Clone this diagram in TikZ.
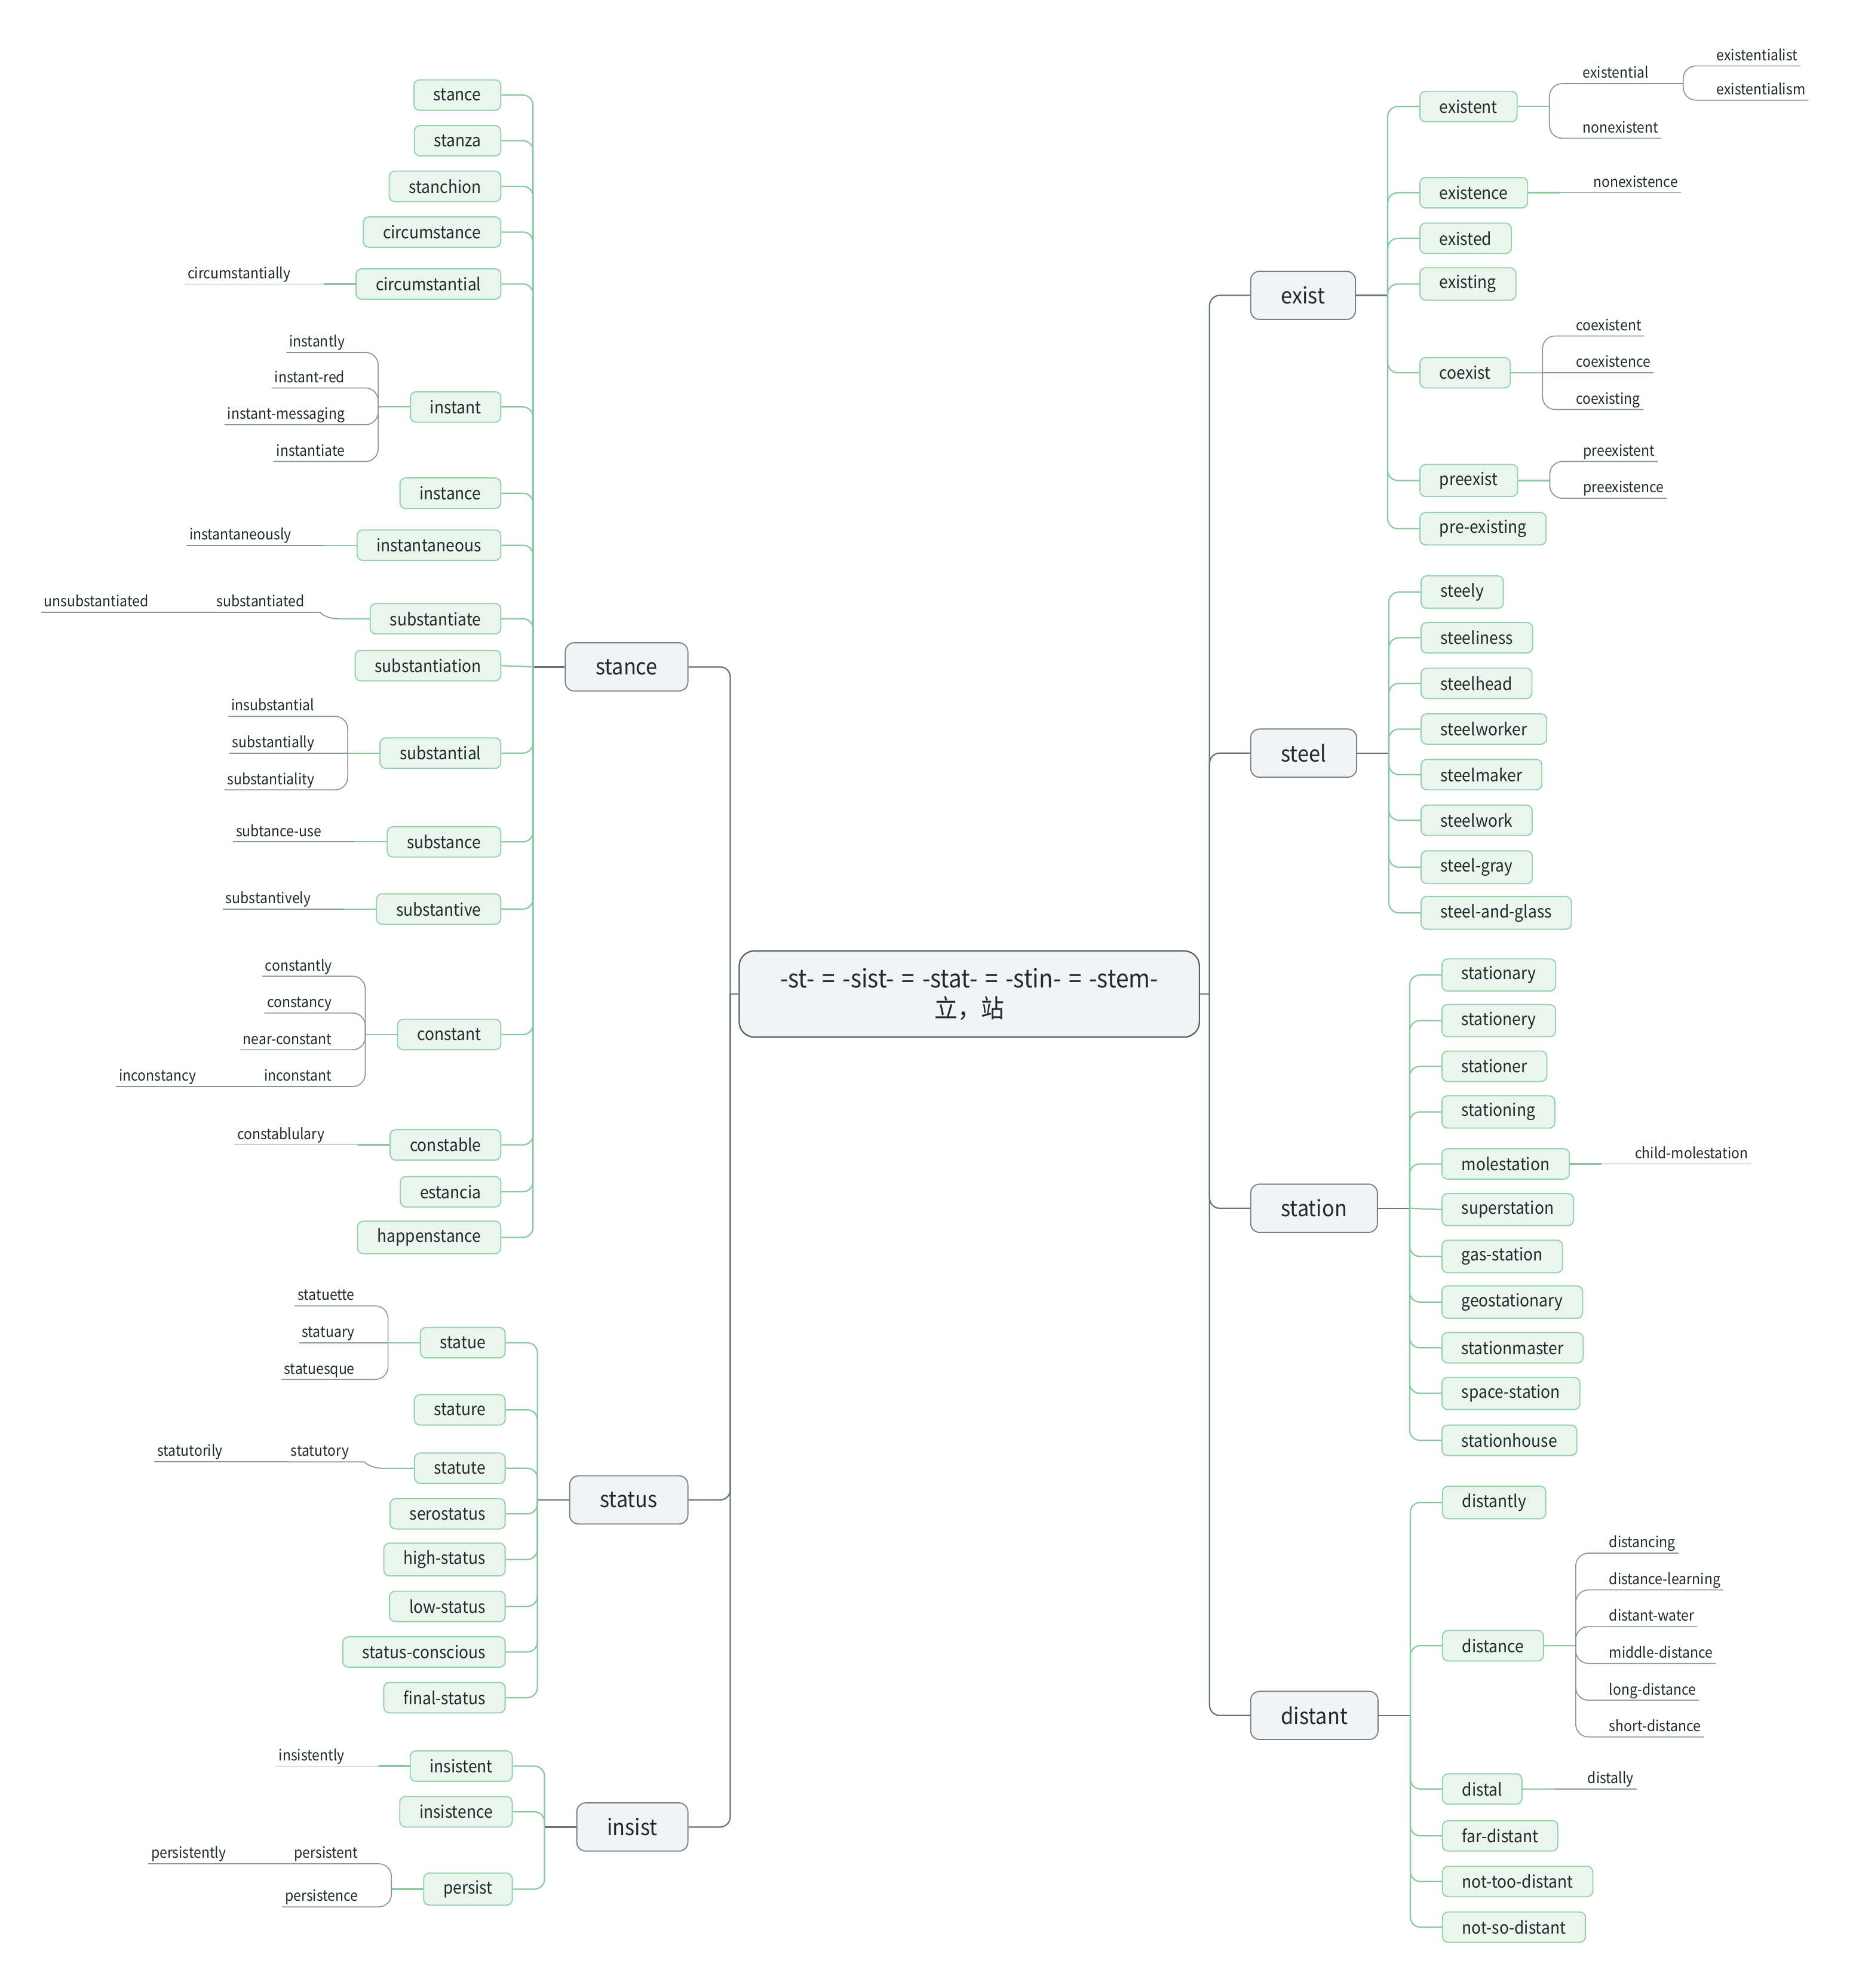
\documentclass[tikz,border=0pt]{standalone}
\usepackage{fontspec}
\setmainfont{Noto Sans CJK SC}[FakeStretch=0.92]
\usetikzlibrary{calc}

\definecolor{ink}{HTML}{1E2B2B}
\definecolor{rootfill}{HTML}{F1F3F6}
\definecolor{rootline}{HTML}{56625F}
\definecolor{mainline}{HTML}{69766F}
\definecolor{subfill}{HTML}{EAF5EE}
\definecolor{subline}{HTML}{92D2A8}
\definecolor{branchc}{HTML}{86CA9D}
\definecolor{leafc}{HTML}{8A9595}

\newcommand{\widespaces}{\spaceskip=0.3em\relax}

\tikzset{
  root/.style={draw=rootline, fill=rootfill, rounded corners=2.4mm, line width=0.6pt,
    minimum width=72.6mm, minimum height=13.6mm, align=center, text=ink,
    font={\fontsize{11.3}{13.4}\selectfont\widespaces}},
  main/.style={draw=rootline!80, fill=rootfill, rounded corners=1.4mm, line width=0.5pt,
    minimum height=7.6mm, inner xsep=4.8mm, text=ink, font=\fontsize{10}{12}\selectfont},
  sub/.style={draw=subline, fill=subfill, rounded corners=0.9mm, line width=0.5pt,
    minimum height=4.8mm, inner xsep=3.1mm, text=ink, font=\fontsize{7.7}{9}\selectfont},
  leaf/.style={inner xsep=0.4mm, inner ysep=0pt, text depth=0.8mm, text=ink,
    font=\fontsize{6.7}{8}\selectfont},
  mainl/.style={draw=mainline, line width=0.6pt, rounded corners=1.6mm},
  branch/.style={draw=branchc, line width=0.6pt, rounded corners=1.6mm},
  leafl/.style={draw=leafc, line width=0.45pt, rounded corners=2mm},
}

% second-level boxes hanging from a junction point
\newcommand{\subL}[4]{\node[sub, anchor=east] (#1) at ($(#2 |- 0,#3)+(-25,0)$) {#4};
  \draw[branch] (#2) |- (#1.east);}
\newcommand{\subLs}[4]{\node[sub, anchor=east] (#1) at ($(#2 |- 0,#3)+(-25,0)$) {#4};
  \draw[branch] (#2) -- (#1.east);}
\newcommand{\subR}[4]{\node[sub, anchor=west] (#1) at ($(#2 |- 0,#3)+(25,0)$) {#4};
  \draw[branch] (#2) |- (#1.west);}
\newcommand{\subRs}[4]{\node[sub, anchor=west] (#1) at ($(#2 |- 0,#3)+(25,0)$) {#4};
  \draw[branch] (#2) -- (#1.west);}
% junction points
\newcommand{\jL}[2]{\coordinate (#1) at ($(#2.west)+(-25,0)$);}
\newcommand{\jR}[2]{\coordinate (#1) at ($(#2.east)+(25,0)$);}
\newcommand{\jBoxL}[2]{\coordinate (#1) at ($(#2.west)+(-25,0)$); \draw[branch] (#2.west) -- (#1);}
\newcommand{\jBoxR}[2]{\coordinate (#1) at ($(#2.east)+(25,0)$); \draw[branch] (#2.east) -- (#1);}
\newcommand{\jLeafL}[2]{\coordinate (#1) at ($(#2.south west)+(-25,0)$); \draw[leafl] (#2.south west) -- (#1);}
\newcommand{\jLeafR}[2]{\coordinate (#1) at ($(#2.south east)+(25,0)$); \draw[leafl] (#2.south east) -- (#1);}
% underlined leaf words
\newcommand{\leafL}[4]{\node[leaf, anchor=south east] (#1) at ($(#2 |- 0,#3)+(-24,0)$) {#4};
  \draw[leafl] (#2) |- (#1.south east) -- (#1.south west);}
\newcommand{\leafLs}[4]{\node[leaf, anchor=south east] (#1) at ($(#2 |- 0,#3)+(-24,0)$) {#4};
  \draw[leafl] (#2) to[out=180,in=0] (#1.south east) -- (#1.south west);}
\newcommand{\leafR}[4]{\node[leaf, anchor=south west] (#1) at ($(#2 |- 0,#3)+(24,0)$) {#4};
  \draw[leafl] (#2) |- (#1.south west) -- (#1.south east);}
\newcommand{\leafRs}[4]{\node[leaf, anchor=south west] (#1) at ($(#2 |- 0,#3)+(24,0)$) {#4};
  \draw[leafl] (#2) to[out=0,in=180] (#1.south west) -- (#1.south east);}

\begin{document}
\begin{tikzpicture}[x=0.2mm, y=-0.2mm]
\useasboundingbox (0,0) rectangle (1459,1568);

% central topic
\node[root] (root) at (764.5,784) {-st- = -sist- = -stat- = -stin- = -stem-\\立，站};
\coordinate (cl) at (576,784);
\coordinate (cr) at (954,784);
\draw[mainl] (root.west) -- (cl);
\draw[mainl] (root.east) -- (cr);

% main topics, left
\node[main, anchor=east] (stance) at (543,526) {stance};
\node[main, anchor=east] (status) at (543,1183) {status};
\node[main, anchor=east] (insist) at (543,1441) {insist};
% main topics, right
\node[main, anchor=west] (exist) at (986,233) {exist};
\node[main, anchor=west] (steel) at (986,594) {steel};
\node[main, anchor=west] (station) at (986,953) {station};
\node[main, anchor=west] (distant) at (986,1353) {distant};

\foreach \m in {stance,status,insist}{\draw[mainl] (cl) |- (\m.east);}
\foreach \m in {exist,steel,station,distant}{\draw[mainl] (cr) |- (\m.west);}

\jL{jStance}{stance} \draw[mainl] (stance.west) -- (jStance);
\jL{jStatus}{status} \draw[mainl] (status.west) -- (jStatus);
\jL{jInsist}{insist} \draw[mainl] (insist.west) -- (jInsist);
\jR{jExist}{exist} \draw[mainl] (exist.east) -- (jExist);
\jR{jSteel}{steel} \draw[mainl] (steel.east) -- (jSteel);
\jR{jStation}{station} \draw[mainl] (station.east) -- (jStation);
\jR{jDistant}{distant} \draw[mainl] (distant.east) -- (jDistant);

% ---- stance ----
\subL{sStance}{jStance}{75}{stance}
\subL{sStanza}{jStance}{111}{stanza}
\subL{sStanchion}{jStance}{147}{stanchion}
\subL{sCircumstance}{jStance}{183}{circumstance}
\subL{sCircumstantial}{jStance}{224}{circumstantial}
\subL{sInstant}{jStance}{321}{instant}
\subL{sInstance}{jStance}{389}{instance}
\subL{sInstantaneous}{jStance}{430}{instantaneous}
\subL{sSubstantiate}{jStance}{488}{substantiate}
\subLs{sSubstantiation}{jStance}{525}{substantiation}
\subL{sSubstantial}{jStance}{594}{substantial}
\subL{sSubstance}{jStance}{664}{substance}
\subL{sSubstantive}{jStance}{717}{substantive}
\subL{sConstant}{jStance}{816}{constant}
\subL{sConstable}{jStance}{903}{constable}
\subL{sEstancia}{jStance}{940}{estancia}
\subL{sHappenstance}{jStance}{976}{happenstance}

\jBoxL{jCircumstantial}{sCircumstantial}
\leafLs{lCircumstantially}{jCircumstantial}{224}{circumstantially}
\jBoxL{jInstant}{sInstant}
\leafL{lInstantly}{jInstant}{278}{instantly}
\leafL{lInstantRed}{jInstant}{306}{instant-red}
\leafL{lInstantMessaging}{jInstant}{335}{instant-messaging}
\leafL{lInstantiate}{jInstant}{364}{instantiate}
\jBoxL{jInstantaneous}{sInstantaneous}
\leafLs{lInstantaneously}{jInstantaneous}{430}{instantaneously}
\jBoxL{jSubstantiate}{sSubstantiate}
\leafLs{lSubstantiated}{jSubstantiate}{483}{substantiated}
\jLeafL{jSubstantiated}{lSubstantiated}
\leafLs{lUnsubstantiated}{jSubstantiated}{483}{unsubstantiated}
\jBoxL{jSubstantial}{sSubstantial}
\leafL{lInsubstantial}{jSubstantial}{565}{insubstantial}
\leafLs{lSubstantially}{jSubstantial}{594}{substantially}
\leafL{lSubstantiality}{jSubstantial}{623}{substantiality}
\jBoxL{jSubstance}{sSubstance}
\leafLs{lSubtanceUse}{jSubstance}{664}{subtance-use}
\jBoxL{jSubstantive}{sSubstantive}
\leafLs{lSubstantively}{jSubstantive}{717}{substantively}
\jBoxL{jConstant}{sConstant}
\leafL{lConstantly}{jConstant}{770}{constantly}
\leafL{lConstancy}{jConstant}{799}{constancy}
\leafL{lNearConstant}{jConstant}{828}{near-constant}
\leafL{lInconstant}{jConstant}{857}{inconstant}
\jLeafL{jInconstant}{lInconstant}
\leafLs{lInconstancy}{jInconstant}{857}{inconstancy}
\jBoxL{jConstable}{sConstable}
\leafLs{lConstablulary}{jConstable}{903}{constablulary}

% ---- status ----
\subL{sStatue}{jStatus}{1059}{statue}
\subL{sStature}{jStatus}{1112}{stature}
\subL{sStatute}{jStatus}{1158}{statute}
\subL{sSerostatus}{jStatus}{1194}{serostatus}
\subL{sHighStatus}{jStatus}{1230}{high-status}
\subL{sLowStatus}{jStatus}{1267}{low-status}
\subL{sStatusConscious}{jStatus}{1303}{status-conscious}
\subL{sFinalStatus}{jStatus}{1339}{final-status}

\jBoxL{jStatue}{sStatue}
\leafL{lStatuette}{jStatue}{1030}{statuette}
\leafLs{lStatuary}{jStatue}{1059}{statuary}
\leafL{lStatuesque}{jStatue}{1088}{statuesque}
\jBoxL{jStatute}{sStatute}
\leafLs{lStatutory}{jStatute}{1153}{statutory}
\jLeafL{jStatutory}{lStatutory}
\leafLs{lStatutorily}{jStatutory}{1153}{statutorily}

% ---- insist ----
\subL{sInsistent}{jInsist}{1393}{insistent}
\subL{sInsistence}{jInsist}{1429}{insistence}
\subL{sPersist}{jInsist}{1490}{persist}

\jBoxL{jInsistent}{sInsistent}
\leafLs{lInsistently}{jInsistent}{1393}{insistently}
\jBoxL{jPersist}{sPersist}
\leafL{lPersistent}{jPersist}{1470}{persistent}
\leafL{lPersistence}{jPersist}{1504}{persistence}
\jLeafL{jPersistent}{lPersistent}
\leafLs{lPersistently}{jPersistent}{1470}{persistently}

% ---- exist ----
\subR{sExistent}{jExist}{84}{existent}
\subR{sExistence}{jExist}{152}{existence}
\subR{sExisted}{jExist}{188}{existed}
\subR{sExisting}{jExist}{224}{existing}
\subR{sCoexist}{jExist}{294}{coexist}
\subR{sPreexist}{jExist}{379}{preexist}
\subR{sPreExisting}{jExist}{417}{pre-existing}

\jBoxR{jExistent}{sExistent}
\leafR{lExistential}{jExistent}{66}{existential}
\leafR{lNonexistent}{jExistent}{109}{nonexistent}
\jLeafR{jExistential}{lExistential}
\leafR{lExistentialist}{jExistential}{52}{existentialist}
\leafR{lExistentialism}{jExistential}{79}{existentialism}
\jBoxR{jExistence}{sExistence}
\leafRs{lNonexistence}{jExistence}{152}{nonexistence}
\jBoxR{jCoexist}{sCoexist}
\leafR{lCoexistent}{jCoexist}{265}{coexistent}
\leafRs{lCoexistence}{jCoexist}{294}{coexistence}
\leafR{lCoexisting}{jCoexist}{323}{coexisting}
\jBoxR{jPreexist}{sPreexist}
\leafR{lPreexistent}{jPreexist}{364}{preexistent}
\leafR{lPreexistence}{jPreexist}{393}{preexistence}

% ---- steel ----
\subR{sSteely}{jSteel}{467}{steely}
\subR{sSteeliness}{jSteel}{503}{steeliness}
\subR{sSteelhead}{jSteel}{539}{steelhead}
\subR{sSteelworker}{jSteel}{575}{steelworker}
\subR{sSteelmaker}{jSteel}{611}{steelmaker}
\subR{sSteelwork}{jSteel}{647}{steelwork}
\subR{sSteelGray}{jSteel}{684}{steel-gray}
\subR{sSteelAndGlass}{jSteel}{720}{steel-and-glass}

% ---- station ----
\subR{sStationary}{jStation}{769}{stationary}
\subR{sStationery}{jStation}{805}{stationery}
\subR{sStationer}{jStation}{841}{stationer}
\subR{sStationing}{jStation}{877}{stationing}
\subR{sMolestation}{jStation}{918}{molestation}
\subRs{sSuperstation}{jStation}{954}{superstation}
\subR{sGasStation}{jStation}{991}{gas-station}
\subR{sGeostationary}{jStation}{1027}{geostationary}
\subR{sStationmaster}{jStation}{1063}{stationmaster}
\subR{sSpaceStation}{jStation}{1099}{space-station}
\subR{sStationhouse}{jStation}{1136}{stationhouse}

\jBoxR{jMolestation}{sMolestation}
\leafRs{lChildMolestation}{jMolestation}{918}{child-molestation}

% ---- distant ----
\subR{sDistantly}{jDistant}{1185}{distantly}
\subR{sDistance}{jDistant}{1298}{distance}
\subR{sDistal}{jDistant}{1411}{distal}
\subR{sFarDistant}{jDistant}{1448}{far-distant}
\subR{sNotTooDistant}{jDistant}{1484}{not-too-distant}
\subR{sNotSoDistant}{jDistant}{1520}{not-so-distant}

\jBoxR{jDistance}{sDistance}
\leafR{lDistancing}{jDistance}{1225}{distancing}
\leafR{lDistanceLearning}{jDistance}{1254}{distance-learning}
\leafR{lDistantWater}{jDistance}{1283}{distant-water}
\leafR{lMiddleDistance}{jDistance}{1312}{middle-distance}
\leafR{lLongDistance}{jDistance}{1341}{long-distance}
\leafR{lShortDistance}{jDistance}{1370}{short-distance}
\jBoxR{jDistal}{sDistal}
\leafRs{lDistally}{jDistal}{1411}{distally}

\end{tikzpicture}
\end{document}
